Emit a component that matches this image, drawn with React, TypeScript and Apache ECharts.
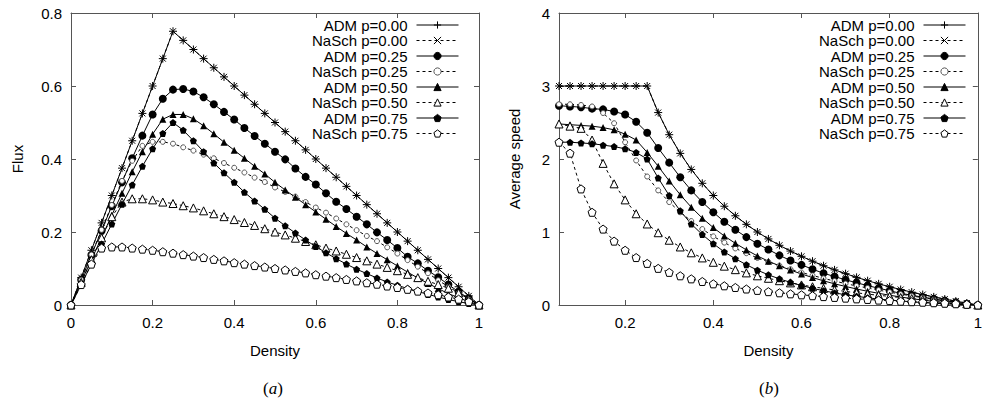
import React, { useEffect, useRef } from "react";
import * as echarts from "echarts";

// Density sample points (0 .. 1 step 0.025)
const DENSITY = [
  0, 0.025, 0.05, 0.075, 0.1, 0.125, 0.15, 0.175, 0.2, 0.225, 0.25, 0.275, 0.3, 0.325, 0.35, 0.375,
  0.4, 0.425, 0.45, 0.475, 0.5, 0.525, 0.55, 0.575, 0.6, 0.625, 0.65, 0.675, 0.7, 0.725, 0.75, 0.775,
  0.8, 0.825, 0.85, 0.875, 0.9, 0.925, 0.95, 0.975, 1,
];
// speed panel starts at density 0.05
const DENSITY_SPEED = DENSITY.slice(2);

const NAMES = [
  "ADM p=0.00",
  "NaSch p=0.00",
  "ADM p=0.25",
  "NaSch p=0.25",
  "ADM p=0.50",
  "NaSch p=0.50",
  "ADM p=0.75",
  "NaSch p=0.75",
];

// ---- (a) Flux vs density ----
const FLUX_ADM_000 = [0, .075, .15, .225, .3, .375, .45, .525, .6, .675, .75, .725, .7, .675, .65, .625, .6, .575, .55, .525, .5, .475, .45, .425, .4, .375, .35, .325, .3, .275, .25, .225, .2, .175, .15, .125, .1, .075, .05, .025, 0];
const FLUX_NASCH_000 = [0, .075, .15, .225, .3, .375, .45, .525, .6, .675, .75, .725, .7, .675, .65, .625, .6, .575, .55, .525, .5, .475, .45, .425, .4, .375, .35, .325, .3, .275, .25, .225, .2, .175, .15, .125, .1, .075, .05, .025, 0];
const FLUX_ADM_025 = [0, .069, .137, .204, .271, .336, .402, .464, .522, .565, .59, .592, .585, .569, .55, .529, .508, .485, .463, .442, .42, .399, .374, .351, .33, .306, .283, .263, .242, .221, .199, .178, .156, .132, .114, .094, .076, .056, .036, .018, 0];
const FLUX_NASCH_025 = [0, .069, .138, .206, .274, .34, .395, .436, .447, .447, .442, .432, .423, .412, .402, .389, .376, .363, .349, .337, .322, .31, .297, .282, .267, .253, .237, .221, .205, .189, .175, .158, .141, .123, .105, .087, .068, .05, .033, .016, 0];
const FLUX_ADM_050 = [0, .063, .124, .185, .246, .306, .365, .42, .468, .509, .522, .522, .51, .491, .469, .446, .424, .402, .38, .359, .336, .315, .295, .275, .255, .235, .215, .196, .178, .159, .141, .124, .107, .09, .074, .059, .045, .031, .02, .009, 0];
const FLUX_NASCH_050 = [0, .062, .124, .184, .242, .282, .291, .291, .288, .282, .278, .272, .266, .258, .25, .242, .234, .226, .218, .209, .2, .192, .183, .174, .165, .156, .148, .139, .13, .121, .112, .103, .094, .084, .075, .065, .056, .046, .033, .016, 0];
const FLUX_ADM_075 = [0, .056, .112, .167, .222, .276, .329, .38, .428, .47, .5, .479, .45, .42, .389, .362, .336, .309, .285, .262, .238, .217, .197, .178, .16, .143, .127, .112, .098, .086, .074, .063, .054, .045, .037, .029, .022, .015, .009, .004, 0];
const FLUX_NASCH_075 = [0, .056, .112, .156, .159, .159, .156, .153, .15, .146, .142, .138, .134, .13, .125, .121, .116, .112, .108, .104, .1, .096, .092, .088, .083, .079, .075, .07, .066, .061, .057, .052, .048, .043, .038, .033, .028, .022, .016, .009, 0];

// ---- (b) Average speed vs density (from 0.05) ----
const SPEED_ADM_000 = [3, 3, 3, 3, 3, 3, 3, 3, 3, 2.636, 2.333, 2.077, 1.857, 1.667, 1.5, 1.353, 1.222, 1.105, 1.0, 0.905, 0.818, 0.739, 0.667, 0.6, 0.538, 0.481, 0.429, 0.379, 0.333, 0.29, 0.25, 0.212, 0.176, 0.143, 0.111, 0.081, 0.053, 0.026, 0];
const SPEED_NASCH_000 = [3, 3, 3, 3, 3, 3, 3, 3, 3, 2.636, 2.333, 2.077, 1.857, 1.667, 1.5, 1.353, 1.222, 1.105, 1.0, 0.905, 0.818, 0.739, 0.667, 0.6, 0.538, 0.481, 0.429, 0.379, 0.333, 0.29, 0.25, 0.212, 0.176, 0.143, 0.111, 0.081, 0.053, 0.026, 0];
const SPEED_ADM_025 = [2.73, 2.72, 2.71, 2.69, 2.68, 2.65, 2.61, 2.51, 2.36, 2.15, 1.95, 1.75, 1.57, 1.41, 1.27, 1.14, 1.03, 0.93, 0.84, 0.76, 0.68, 0.61, 0.55, 0.49, 0.435, 0.39, 0.345, 0.305, 0.265, 0.23, 0.195, 0.16, 0.134, 0.107, 0.084, 0.06, 0.038, 0.018, 0];
const SPEED_NASCH_025 = [2.75, 2.75, 2.74, 2.72, 2.63, 2.49, 2.23, 1.98, 1.76, 1.57, 1.41, 1.27, 1.15, 1.04, 0.94, 0.855, 0.775, 0.71, 0.645, 0.59, 0.54, 0.49, 0.445, 0.405, 0.365, 0.328, 0.293, 0.261, 0.233, 0.204, 0.176, 0.149, 0.124, 0.1, 0.076, 0.054, 0.035, 0.016, 0];
const SPEED_ADM_050 = [2.48, 2.47, 2.46, 2.45, 2.43, 2.40, 2.34, 2.26, 2.09, 1.90, 1.70, 1.51, 1.34, 1.19, 1.06, 0.945, 0.845, 0.755, 0.672, 0.6, 0.536, 0.478, 0.425, 0.376, 0.331, 0.29, 0.254, 0.219, 0.188, 0.16, 0.134, 0.109, 0.087, 0.067, 0.05, 0.034, 0.021, 0.009, 0];
const SPEED_NASCH_050 = [2.48, 2.45, 2.42, 2.26, 1.94, 1.66, 1.44, 1.25, 1.11, 0.99, 0.887, 0.795, 0.715, 0.645, 0.585, 0.532, 0.484, 0.44, 0.4, 0.366, 0.333, 0.303, 0.275, 0.25, 0.228, 0.206, 0.186, 0.167, 0.149, 0.133, 0.118, 0.102, 0.088, 0.074, 0.062, 0.05, 0.035, 0.016, 0];
const SPEED_ADM_075 = [2.23, 2.23, 2.22, 2.21, 2.19, 2.17, 2.14, 2.09, 2.0, 1.74, 1.5, 1.29, 1.11, 0.965, 0.84, 0.727, 0.634, 0.552, 0.477, 0.413, 0.358, 0.31, 0.267, 0.229, 0.195, 0.166, 0.14, 0.119, 0.099, 0.081, 0.068, 0.055, 0.044, 0.033, 0.024, 0.016, 0.009, 0.004, 0];
const SPEED_NASCH_075 = [2.23, 2.08, 1.59, 1.27, 1.04, 0.875, 0.75, 0.65, 0.57, 0.502, 0.447, 0.4, 0.358, 0.322, 0.29, 0.263, 0.24, 0.219, 0.2, 0.183, 0.167, 0.153, 0.139, 0.127, 0.115, 0.104, 0.094, 0.084, 0.076, 0.067, 0.06, 0.052, 0.045, 0.038, 0.031, 0.024, 0.017, 0.009, 0];

const FLUX = [FLUX_ADM_000, FLUX_NASCH_000, FLUX_ADM_025, FLUX_NASCH_025, FLUX_ADM_050, FLUX_NASCH_050, FLUX_ADM_075, FLUX_NASCH_075];
const SPEED = [SPEED_ADM_000, SPEED_NASCH_000, SPEED_ADM_025, SPEED_NASCH_025, SPEED_ADM_050, SPEED_NASCH_050, SPEED_ADM_075, SPEED_NASCH_075];

const X_TICKS_A = [0, 0.2, 0.4, 0.6, 0.8, 1];
const X_TICKS_B = [0.2, 0.4, 0.6, 0.8, 1];

const PLUS = "path://M0,5L10,5M5,0L5,10";
const CROSS = "path://M0,0L10,10M0,10L10,0";
const PENT = "path://M5,0L9.76,3.45L7.94,9.05L2.06,9.05L0.24,3.45Z";

const STYLES = [
  { symbol: PLUS, size: 8, fill: "#000", stroke: "#000", bw: 1, dashed: false },
  { symbol: CROSS, size: 6, fill: "#000", stroke: "#000", bw: 1, dashed: true },
  { symbol: "circle", size: 8, fill: "#000", stroke: "#000", bw: 0, dashed: false },
  { symbol: "circle", size: 5, fill: "#fff", stroke: "#555", bw: 1, dashed: true },
  { symbol: "triangle", size: 7, fill: "#000", stroke: "#000", bw: 0, dashed: false },
  { symbol: "triangle", size: 8, fill: "#fff", stroke: "#000", bw: 1, dashed: true },
  { symbol: PENT, size: 7, fill: "#000", stroke: "#000", bw: 0, dashed: false },
  { symbol: PENT, size: 8, fill: "#fff", stroke: "#000", bw: 1, dashed: true },
];

const FONT = "Liberation Sans, Arial, sans-serif";
const FRAME = "#555";

function fmt(v: number) {
  return String(Number(v.toFixed(2)));
}

function baseAxis(extra: any) {
  return {
    type: "value",
    axisLine: { show: true, onZero: false, lineStyle: { color: FRAME, width: 1 } },
    axisTick: { show: true, inside: true, length: 5, lineStyle: { color: FRAME, width: 1 } },
    splitLine: { show: false },
    axisLabel: { color: "#000", fontSize: 15, fontFamily: FONT, formatter: fmt },
    nameTextStyle: { color: "#000", fontSize: 15, fontFamily: FONT },
    ...extra,
  };
}

function buildSeries(xs: number[], ys: number[][], xi: number, yi: number) {
  return ys.map((vals, i) => {
    const s = STYLES[i];
    return {
      type: "line",
      name: NAMES[i],
      xAxisIndex: xi,
      yAxisIndex: yi,
      data: xs.map((x, k) => [x, vals[k]]),
      symbol: s.symbol,
      symbolSize: s.size,
      showAllSymbol: true,
      silent: true,
      lineStyle: { color: "#000", width: 1, type: s.dashed ? [3, 3] : "solid" },
      itemStyle: { color: s.fill, borderColor: s.stroke, borderWidth: s.bw },
      emphasis: { disabled: true },
    };
  });
}

function legend(right: number) {
  return {
    data: NAMES,
    orient: "vertical",
    align: "right",
    right,
    top: 17.5,
    padding: 0,
    itemGap: 0.5,
    itemWidth: 42,
    itemHeight: 9,
    selectedMode: false,
    lineStyle: { width: 1 },
    itemStyle: { borderWidth: 1 },
    textStyle: { color: "#000", fontSize: 15, fontFamily: FONT, lineHeight: 15, padding: [0, 4, 0, 0] },
  };
}

export default function App() {
  const ref = useRef<HTMLDivElement>(null);
  useEffect(() => {
    if (!ref.current) return;
    const chart = echarts.init(ref.current, null, { renderer: "svg" });
    const gridA = { left: 71, top: 13, width: 408, height: 292 };
    const gridB = { left: 559, top: 13, width: 425, height: 292 };
    chart.setOption({
      animation: false,
      backgroundColor: "#fff",
      grid: [gridA, gridB],
      xAxis: [
        baseAxis({
          gridIndex: 0, position: "bottom", min: 0, max: 1, interval: 0.2,
          name: "Density", nameLocation: "middle", nameGap: 38,
          axisLabel: { color: "#000", fontSize: 15, fontFamily: FONT, formatter: fmt, margin: 10, customValues: X_TICKS_A },
          axisTick: { show: true, inside: true, length: 5, lineStyle: { color: FRAME }, customValues: X_TICKS_A },
        }),
        baseAxis({
          gridIndex: 0, position: "top", min: 0, max: 1, interval: 0.2,
          axisLabel: { show: false },
        }),
        baseAxis({
          gridIndex: 1, position: "bottom", min: 0.05, max: 1,
          name: "Density", nameLocation: "middle", nameGap: 38,
          axisLabel: { color: "#000", fontSize: 15, fontFamily: FONT, formatter: fmt, margin: 10, customValues: X_TICKS_B },
          axisTick: { show: true, inside: true, length: 5, lineStyle: { color: FRAME }, customValues: X_TICKS_B },
        }),
        baseAxis({
          gridIndex: 1, position: "top", min: 0.05, max: 1,
          axisLabel: { show: false, customValues: X_TICKS_B },
          axisTick: { show: true, inside: true, length: 5, lineStyle: { color: FRAME }, customValues: X_TICKS_B },
        }),
      ],
      yAxis: [
        baseAxis({
          gridIndex: 0, position: "left", min: 0, max: 0.8, interval: 0.2,
          name: "Flux", nameLocation: "middle", nameGap: 46, nameRotate: 90,
          axisLabel: { color: "#000", fontSize: 15, fontFamily: FONT, formatter: fmt, margin: 9 },
        }),
        baseAxis({ gridIndex: 0, position: "right", min: 0, max: 0.8, interval: 0.2, axisLabel: { show: false } }),
        baseAxis({
          gridIndex: 1, position: "left", min: 0, max: 4, interval: 1,
          name: "Average speed", nameLocation: "middle", nameGap: 37, nameRotate: 90,
          axisLabel: { color: "#000", fontSize: 15, fontFamily: FONT, formatter: fmt, margin: 9 },
        }),
        baseAxis({ gridIndex: 1, position: "right", min: 0, max: 4, interval: 1, axisLabel: { show: false } }),
      ],
      legend: [legend(985 - 459), legend(985 - 966)],
      series: [
        ...buildSeries(DENSITY, FLUX, 0, 0),
        ...buildSeries(DENSITY_SPEED, SPEED, 2, 2),
      ],
      graphic: [
        {
          type: "text", x: 273, y: 388, silent: true,
          style: {
            text: "{p|(}{i|a}{p|)}", align: "center", verticalAlign: "middle",
            rich: {
              p: { fontFamily: "Liberation Serif, serif", fontSize: 17, fill: "#000" },
              i: { fontFamily: "Liberation Serif, serif", fontSize: 17, fontStyle: "italic", fill: "#000" },
            },
          },
        },
        {
          type: "text", x: 769, y: 388, silent: true,
          style: {
            text: "{p|(}{i|b}{p|)}", align: "center", verticalAlign: "middle",
            rich: {
              p: { fontFamily: "Liberation Serif, serif", fontSize: 17, fill: "#000" },
              i: { fontFamily: "Liberation Serif, serif", fontSize: 17, fontStyle: "italic", fill: "#000" },
            },
          },
        },
      ],
    });
    return () => chart.dispose();
  }, []);
  return (
    <div
      ref={ref}
      style={{ position: "fixed", left: 0, top: 0, width: 985, height: 405, background: "#fff" }}
    />
  );
}
